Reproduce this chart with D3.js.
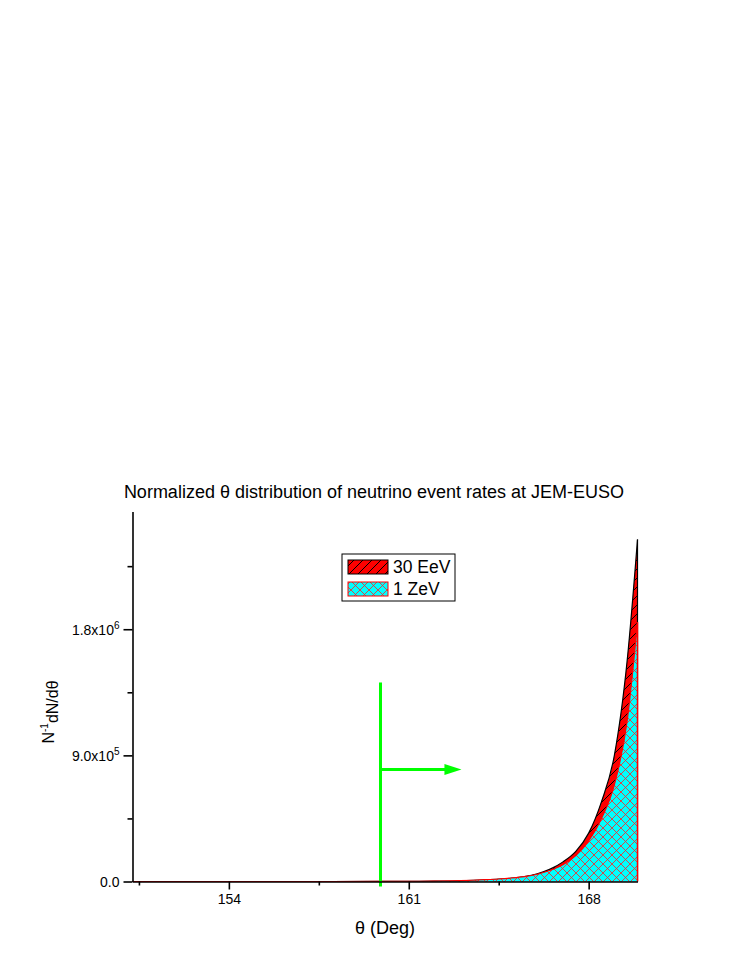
<!DOCTYPE html>
<html>
<head>
<meta charset="utf-8">
<script src="https://cdn.jsdelivr.net/npm/d3@7"></script>
<style>
  html, body { margin: 0; padding: 0; background: #fff; }
  svg { display: block; font-family: "Liberation Sans", Arial, sans-serif; }
</style>
</head>
<body>
<svg id="chart" width="747" height="967"></svg>
<script>
// ---- data ----
const theta      = [150.25, 152, 154, 156, 158, 160, 161, 162, 163, 163.5, 164, 164.5, 165, 165.5, 166, 166.5, 167, 167.5, 168, 168.5, 169, 169.5, 169.9];
const rates30EeV = [0, 0, 0, 0, 100, 500, 1000, 2500, 5000, 8000, 12000, 17000, 24000, 35000, 55000, 88000, 140000, 215000, 345000, 570000, 900000, 1580000, 2440000];
const rates1ZeV  = [0, 0, 0, 0, 150, 600, 1300, 3000, 6000, 9000, 13000, 18000, 25000, 35000, 52000, 80000, 120000, 185000, 290000, 450000, 690000, 1150000, 1850000];
const seriesNames = ["30 EeV", "1 ZeV"];
const xTicks = [154, 161, 168];
const xMinorTicks = [150.5, 157.5, 164.5];
const yTicks = [0, 9.0e5, 1.8e6];
const yTickLabels = [["0.0", ""], ["9.0x10", "5"], ["1.8x10", "6"]];
const yMinorTicks = [4.5e5, 1.35e6, 2.25e6];
const xDomain = [150.25, 169.9];
const yDomain = [0, 2.64e6];
// threshold marker annotation (theta, top value, arrow level, arrow end)
const markerTheta = 159.9;
const markerTop = 1.42e6;
const arrowLevel = 8.0e5;
const arrowEnd = 163.05;

const svg = d3.select("#chart");
const pLeft = 132.5, pRight = 637.5, pTop = 511.5, pBottom = 881.5;
const FONT = "Liberation Sans, Arial, sans-serif";

const x = d3.scaleLinear().domain(xDomain).range([pLeft, pRight]);
const y = d3.scaleLinear().domain(yDomain).range([pBottom, pTop]);

const defs = svg.append("defs");
const p1 = defs.append("pattern").attr("id", "hatch30").attr("patternUnits", "userSpaceOnUse")
  .attr("width", 9).attr("height", 9);
p1.append("rect").attr("width", 9).attr("height", 9).attr("fill", "#ff0000");
p1.append("path").attr("d", "M-2,2 L2,-2 M0,9 L9,0 M7,11 L11,7").attr("stroke", "#000").attr("stroke-width", 1);

const p2 = defs.append("pattern").attr("id", "cross1").attr("patternUnits", "userSpaceOnUse")
  .attr("width", 9).attr("height", 9);
p2.append("rect").attr("width", 9).attr("height", 9).attr("fill", "#00ffff");
p2.append("path").attr("d", "M-2,2 L2,-2 M0,9 L9,0 M7,11 L11,7 M-2,7 L2,11 M0,0 L9,9 M7,-2 L11,2")
  .attr("stroke", "#ff2020").attr("stroke-width", 0.8);

const d30 = theta.map((t, i) => [t, rates30EeV[i]]);
const d1 = theta.map((t, i) => [t, rates1ZeV[i]]);

const area = d3.area().x(d => x(d[0])).y0(y(0)).y1(d => y(d[1])).curve(d3.curveMonotoneX);
const line = d3.line().x(d => x(d[0])).y(d => y(d[1])).curve(d3.curveMonotoneX);

// 30 EeV
svg.append("path").datum(d30).attr("d", area).attr("fill", "url(#hatch30)");
svg.append("path").datum(d30).attr("d", line).attr("fill", "none").attr("stroke", "#000").attr("stroke-width", 1.2);
svg.append("line").attr("x1", x(xDomain[1])).attr("x2", x(xDomain[1]))
  .attr("y1", y(rates30EeV[rates30EeV.length - 1])).attr("y2", y(0)).attr("stroke", "#000").attr("stroke-width", 1.2);

// 1 ZeV
svg.append("path").datum(d1).attr("d", area).attr("fill", "url(#cross1)");
svg.append("path").datum(d1).attr("d", line).attr("fill", "none").attr("stroke", "#ff0000").attr("stroke-width", 1.2);
svg.append("line").attr("x1", x(xDomain[1])).attr("x2", x(xDomain[1]))
  .attr("y1", y(rates1ZeV[rates1ZeV.length - 1])).attr("y2", y(0)).attr("stroke", "#ff0000").attr("stroke-width", 1.5);

// green marker
const green = "#00ff00";
svg.append("line").attr("x1", x(markerTheta)).attr("x2", x(markerTheta))
  .attr("y1", y(markerTop)).attr("y2", y(0) + 5).attr("stroke", green).attr("stroke-width", 3);
svg.append("line").attr("x1", x(markerTheta)).attr("x2", x(arrowEnd) - 12)
  .attr("y1", y(arrowLevel)).attr("y2", y(arrowLevel)).attr("stroke", green).attr("stroke-width", 3);
const ax = x(arrowEnd), ay = y(arrowLevel);
svg.append("path").attr("d", `M${ax},${ay} L${ax - 17},${ay - 5.5} L${ax - 17},${ay + 5.5} Z`).attr("fill", green);

// axes
const xAxis = svg.append("g").attr("transform", `translate(0,${pBottom})`)
  .call(d3.axisBottom(x).tickValues(xTicks).tickSize(8).tickSizeOuter(0).tickPadding(5).tickFormat(d3.format("d")));
const xMinor = svg.append("g").attr("transform", `translate(0,${pBottom})`)
  .call(d3.axisBottom(x).tickValues(xMinorTicks).tickSize(4).tickSizeOuter(0).tickFormat(""));
xMinor.select(".domain").remove();

const yAxis = svg.append("g").attr("transform", `translate(${pLeft},0)`)
  .call(d3.axisLeft(y).tickValues(yTicks).tickSize(9).tickSizeOuter(0).tickPadding(4).tickFormat(""));
const yMinor = svg.append("g").attr("transform", `translate(${pLeft},0)`)
  .call(d3.axisLeft(y).tickValues(yMinorTicks).tickSize(5).tickSizeOuter(0).tickFormat(""));
yMinor.select(".domain").remove();

[xAxis, xMinor, yAxis, yMinor].forEach(g => {
  g.attr("font-family", FONT);
  g.selectAll(".domain").attr("stroke", "#000").attr("stroke-width", 1.6);
  g.selectAll(".tick line").attr("stroke", "#000").attr("stroke-width", 1.6);
});
xAxis.attr("font-size", 14);
xAxis.selectAll(".tick text").attr("font-size", 14).attr("fill", "#000");

yAxis.attr("font-size", 14);
yAxis.selectAll(".tick").each(function(d, i) {
  const t = d3.select(this).append("text")
    .attr("x", -13).attr("dy", "0.35em").attr("text-anchor", "end")
    .attr("font-size", 14).attr("fill", "#000").attr("font-family", FONT);
  const lab = yTickLabels[i];
  if (lab[1]) {
    t.append("tspan").text(lab[0]);
    t.append("tspan").attr("font-size", 10).attr("dy", "-0.6em").text(lab[1]);
  } else {
    t.text(lab[0]);
  }
});

// titles
svg.append("text").attr("x", 374).attr("y", 498).attr("text-anchor", "middle")
  .attr("font-size", 18).attr("fill", "#000")
  .text("Normalized θ distribution of neutrino event rates at JEM-EUSO");

svg.append("text").attr("x", (pLeft + pRight) / 2).attr("y", 934).attr("text-anchor", "middle")
  .attr("font-size", 18).attr("fill", "#000").text("θ (Deg)");

const yl = svg.append("text").attr("transform", `translate(54,712) rotate(-90)`)
  .attr("text-anchor", "middle").attr("font-size", 16).attr("fill", "#000");
yl.append("tspan").text("N");
yl.append("tspan").attr("font-size", 10).attr("dy", "-0.6em").text("-1");
yl.append("tspan").attr("dy", "0.6em").attr("font-size", 16).text("dN/dθ");

// legend
const lg = svg.append("g").attr("transform", "translate(342,554)");
lg.append("rect").attr("width", 113).attr("height", 47).attr("fill", "#fff").attr("stroke", "#000").attr("stroke-width", 1);
const fills = ["url(#hatch30)", "url(#cross1)"];
const strokes = ["#000", "#ff0000"];
seriesNames.forEach((name, i) => {
  const yy = 6 + i * 22;
  lg.append("rect").attr("x", 6).attr("y", yy).attr("width", 40).attr("height", 14)
    .attr("fill", fills[i]).attr("stroke", strokes[i]).attr("stroke-width", 1);
  lg.append("text").attr("x", 51).attr("y", yy + 13).attr("font-size", 17.5).attr("fill", "#000").text(name);
});
</script>
</body>
</html>
